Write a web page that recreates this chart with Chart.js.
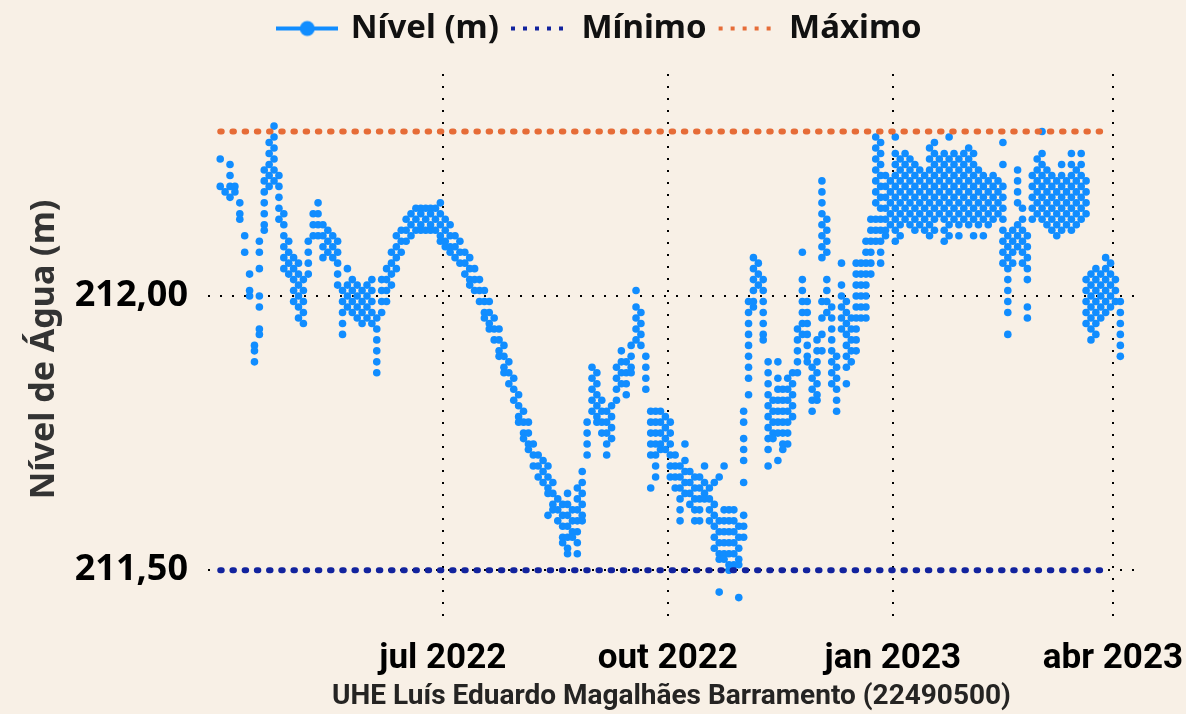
<!DOCTYPE html>
<html lang="pt-BR">
<head>
<meta charset="utf-8">
<title>Nível de Água — UHE Luís Eduardo Magalhães</title>
<script src="https://cdn.jsdelivr.net/npm/chart.js@4.4.1/dist/chart.umd.min.js"></script>
<style>
  html, body { margin: 0; padding: 0; background: #F8F0E6; }
  #quadro { width: 1186px; height: 714px; position: relative; }
</style>
</head>
<body>
<div id="quadro"><canvas id="grafico"></canvas></div>
<script>
'use strict';

/* leituras do nível, uma amostra a cada 2 dias a partir de 01/04/2022
   (cada amostra guarda os valores lidos naquela coluna do gráfico) */
const dataInicial = '2022-04-01';
const passoDias = 2;
const leituras = [
    // abr 2022
    [212.25, 212.20], [212.19], [212.24, 212.22, 212.20, 212.18], [212.20, 212.19],
    [212.17, 212.15, 212.14], [212.11, 212.08], [212.04, 212.01, 212.00], [211.91, 211.90, 211.88],
    [212.10, 212.08, 212.05, 212.00, 211.98, 211.94, 211.93],
    [212.23, 212.21, 212.19, 212.17, 212.15, 212.13, 212.12],
    [212.28, 212.26, 212.24, 212.22, 212.20],
    [212.31, 212.29, 212.27, 212.25, 212.23, 212.21],
    [212.22, 212.20, 212.18, 212.16, 212.14],
    [212.15, 212.13, 212.11, 212.09, 212.07, 212.05],
    [212.10, 212.08, 212.06, 212.04],
    // mai 2022
    [212.07, 212.05, 212.03, 212.01, 211.99], [212.06, 212.04, 212.02, 212.00, 211.98, 211.96],
    [212.03, 212.01, 211.99, 211.97, 211.95], [212.10, 212.08, 212.06, 212.04],
    [212.15, 212.13, 212.11], [212.17, 212.15, 212.13, 212.11], [212.13, 212.11, 212.09, 212.07],
    [212.12, 212.10, 212.08], [212.11, 212.09, 212.07], [212.10, 212.08, 212.06, 212.04, 212.02],
    [212.01, 211.99, 211.97, 211.95, 211.93], [212.05, 212.02, 212.00, 211.98],
    [212.03, 212.01, 211.99, 211.97], [212.02, 212.00, 211.98, 211.96], [212.01, 211.99, 211.97, 211.95],
    // jun 2022
    [212.02, 212.00, 211.98, 211.96], [212.03, 212.01, 211.99, 211.97, 211.95],
    [211.96, 211.94, 211.92, 211.90, 211.88, 211.86], [212.03, 212.01, 211.99, 211.97],
    [212.05, 212.03, 212.01, 211.99], [212.08, 212.06, 212.04, 212.02], [212.11, 212.09, 212.07, 212.05],
    [212.12, 212.10, 212.08], [212.14, 212.12, 212.10], [212.15, 212.13, 212.11], [212.16, 212.14, 212.12],
    [212.16, 212.15, 212.13, 212.12], [212.16, 212.14, 212.12], [212.16, 212.15, 212.13, 212.12],
    [212.16, 212.14, 212.12],
    // jul 2022
    [212.17, 212.15, 212.13, 212.11, 212.10], [212.14, 212.12, 212.10, 212.09], [212.13, 212.11, 212.09, 212.08],
    [212.11, 212.09, 212.07], [212.10, 212.08, 212.06], [212.08, 212.06, 212.04], [212.07, 212.05, 212.03, 212.02],
    [212.05, 212.03, 212.01], [212.03, 212.01, 211.99], [212.01, 211.99, 211.97, 211.96],
    [211.99, 211.97, 211.95, 211.94], [211.96, 211.94, 211.92], [211.94, 211.92, 211.90, 211.89],
    [211.91, 211.89, 211.87, 211.86], [211.88, 211.86, 211.84], [211.85, 211.83, 211.81],
    // ago 2022
    [211.82, 211.80, 211.78, 211.77], [211.79, 211.77, 211.75, 211.74], [211.77, 211.75, 211.73, 211.72],
    [211.73, 211.71, 211.69], [211.71, 211.69, 211.67], [211.70, 211.68, 211.66],
    [211.69, 211.67, 211.65, 211.64, 211.60], [211.66, 211.64, 211.62, 211.61], [211.63, 211.61, 211.59],
    [211.62, 211.60, 211.58, 211.56, 211.55], [211.64, 211.62, 211.60, 211.58, 211.56, 211.54, 211.53],
    [211.61, 211.59, 211.57, 211.56], [211.65, 211.63, 211.61, 211.59, 211.57, 211.55, 211.53],
    [211.68, 211.66, 211.64, 211.62, 211.60, 211.59], [211.77, 211.75, 211.73, 211.71],
    // set 2022
    [211.87, 211.85, 211.83, 211.81, 211.79], [211.86, 211.84, 211.82, 211.80, 211.78, 211.77],
    [211.81, 211.79, 211.77, 211.75], [211.79, 211.77, 211.75, 211.73, 211.71], [211.80, 211.78, 211.76, 211.74],
    [211.87, 211.85, 211.83, 211.81], [211.90, 211.88, 211.86, 211.84], [211.88, 211.86, 211.84, 211.82],
    [211.91, 211.89, 211.87, 211.86], [212.01, 211.98, 211.96, 211.94, 211.92], [211.97, 211.95, 211.93, 211.91],
    [211.89, 211.87, 211.85, 211.83], [211.79, 211.77, 211.75, 211.73, 211.71, 211.65],
    [211.79, 211.77, 211.75, 211.73, 211.71, 211.69, 211.67], [211.79, 211.77, 211.75, 211.73, 211.72],
    // out 2022
    [211.78, 211.76, 211.74, 211.72], [211.77, 211.75, 211.73, 211.71, 211.69, 211.67],
    [211.71, 211.69, 211.67, 211.65], [211.69, 211.67, 211.65, 211.63, 211.61, 211.59],
    [211.73, 211.70, 211.68, 211.66, 211.64], [211.68, 211.66, 211.64, 211.62],
    [211.67, 211.65, 211.63, 211.61, 211.59], [211.67, 211.65, 211.63, 211.61, 211.59],
    [211.69, 211.66, 211.64, 211.63], [211.65, 211.63, 211.61, 211.59],
    [211.66, 211.62, 211.60, 211.58, 211.56, 211.54], [211.67, 211.59, 211.57, 211.55, 211.53, 211.52, 211.46],
    [211.69, 211.61, 211.59, 211.57, 211.55, 211.53, 211.52], [211.61, 211.59, 211.57, 211.55, 211.53, 211.51, 211.50],
    [211.61, 211.59, 211.57, 211.55, 211.53, 211.51], [211.58, 211.56, 211.54, 211.52, 211.51, 211.45],
    // nov 2022
    [211.79, 211.77, 211.74, 211.72, 211.70, 211.66, 211.60, 211.58, 211.56],
    [211.99, 211.97, 211.95, 211.93, 211.91, 211.89, 211.87, 211.85, 211.82],
    [212.07, 212.05, 212.03, 212.01, 211.99, 211.98], [212.06, 212.04, 212.02],
    [212.03, 212.01, 211.99, 211.97, 211.95, 211.93, 211.92],
    [211.88, 211.86, 211.84, 211.82, 211.80, 211.78, 211.76, 211.74, 211.72, 211.69],
    [211.81, 211.79, 211.77, 211.75, 211.74], [211.88, 211.85, 211.83, 211.81, 211.79, 211.77, 211.75, 211.70],
    [211.83, 211.81, 211.79, 211.77, 211.75, 211.73, 211.72], [211.85, 211.83, 211.81, 211.79, 211.77, 211.75, 211.73],
    [211.86, 211.84, 211.82, 211.80, 211.78], [211.94, 211.92, 211.90, 211.88, 211.86],
    [212.08, 212.03, 212.01, 211.99, 211.97, 211.95, 211.93], [211.99, 211.97, 211.95, 211.93, 211.91, 211.89, 211.88],
    [211.87, 211.85, 211.83, 211.81, 211.79],
    // dez 2022
    [211.92, 211.90, 211.88, 211.86, 211.84, 211.82, 211.81],
    [212.21, 212.19, 212.17, 212.15, 212.13, 212.11, 212.09, 212.07, 211.99, 211.96, 211.93, 211.90],
    [212.14, 212.12, 212.10, 212.08, 212.03, 212.01, 211.99, 211.97],
    [211.98, 211.96, 211.94, 211.92, 211.90, 211.88, 211.86, 211.84],
    [211.89, 211.87, 211.85, 211.83, 211.81, 211.79], [212.06, 212.02, 212.00, 211.98, 211.96, 211.94],
    [211.99, 211.97, 211.95, 211.93, 211.91, 211.89, 211.87, 211.84], [211.96, 211.94, 211.92, 211.90, 211.88],
    [212.06, 212.04, 212.02, 212.00, 211.98, 211.96, 211.94, 211.92, 211.90],
    [212.06, 212.04, 212.02, 212.00, 211.98, 211.96],
    [212.10, 212.08, 212.06, 212.04, 212.02, 212.00, 211.98, 211.96],
    [212.14, 212.12, 212.10, 212.08, 212.06, 212.04],
    [212.29, 212.27, 212.25, 212.23, 212.21, 212.19, 212.17, 212.14, 212.12, 212.10],
    [212.28, 212.26, 212.24, 212.22, 212.20, 212.18, 212.16, 212.14, 212.12, 212.10, 212.08, 212.06],
    [212.22, 212.20, 212.18, 212.16, 212.14, 212.12, 212.11], [212.21, 212.19, 212.17, 212.15, 212.13],
    // jan 2023
    [212.29, 212.26, 212.24, 212.22, 212.20, 212.18, 212.16, 212.14, 212.12, 212.10],
    [212.25, 212.23, 212.21, 212.19, 212.17, 212.15, 212.13, 212.11],
    [212.26, 212.24, 212.22, 212.20, 212.18, 212.16, 212.14],
    [212.25, 212.23, 212.21, 212.19, 212.17, 212.15, 212.13],
    [212.24, 212.22, 212.20, 212.18, 212.16, 212.14, 212.12],
    [212.23, 212.21, 212.19, 212.17, 212.15, 212.13],
    [212.22, 212.20, 212.18, 212.16, 212.14, 212.12],
    [212.27, 212.25, 212.23, 212.21, 212.19, 212.17, 212.15, 212.13, 212.11],
    [212.28, 212.26, 212.24, 212.22, 212.20, 212.18, 212.16, 212.14, 212.12],
    [212.25, 212.23, 212.21, 212.19, 212.17, 212.15],
    [212.26, 212.24, 212.22, 212.20, 212.18, 212.16, 212.14, 212.12, 212.10],
    [212.29, 212.25, 212.23, 212.21, 212.19, 212.17, 212.15, 212.13, 212.11],
    [212.26, 212.24, 212.22, 212.20, 212.18, 212.16, 212.14],
    [212.25, 212.23, 212.21, 212.19, 212.17, 212.15, 212.13, 212.11],
    [212.26, 212.24, 212.22, 212.20, 212.18, 212.16, 212.14],
    // fev 2023
    [212.27, 212.25, 212.23, 212.21, 212.19, 212.17, 212.15, 212.13],
    [212.26, 212.24, 212.22, 212.20, 212.18, 212.16, 212.14, 212.11],
    [212.23, 212.21, 212.19, 212.17, 212.15, 212.13],
    [212.22, 212.20, 212.18, 212.16, 212.14, 212.11],
    [212.21, 212.19, 212.17, 212.15, 212.13],
    [212.22, 212.20, 212.18, 212.16, 212.14],
    [212.21, 212.19, 212.17, 212.15],
    [212.28, 212.24, 212.20, 212.18, 212.16, 212.14, 212.12, 212.10, 212.08, 212.06],
    [212.11, 212.09, 212.07, 212.05, 212.03, 212.01, 211.99, 211.97, 211.93],
    [212.12, 212.10, 212.08, 212.06],
    [212.23, 212.21, 212.19, 212.17, 212.13, 212.11, 212.09],
    [212.16, 212.14, 212.12, 212.10, 212.08, 212.06],
    [212.11, 212.09, 212.07, 212.05, 212.03, 211.98, 211.96],
    [212.22, 212.20, 212.18, 212.16, 212.14],
    // mar 2023
    [212.25, 212.23, 212.21, 212.19, 212.17, 212.15],
    [212.30, 212.26, 212.24, 212.22, 212.20, 212.18, 212.16, 212.14],
    [212.23, 212.21, 212.19, 212.17, 212.15, 212.13],
    [212.22, 212.20, 212.18, 212.16, 212.14, 212.12],
    [212.21, 212.19, 212.17, 212.15, 212.13, 212.11],
    [212.24, 212.22, 212.20, 212.18, 212.16, 212.14, 212.12],
    [212.21, 212.19, 212.17, 212.15, 212.13],
    [212.26, 212.24, 212.22, 212.20, 212.18, 212.16, 212.14, 212.12],
    [212.23, 212.21, 212.19, 212.17, 212.15, 212.13],
    [212.26, 212.24, 212.22, 212.20, 212.18, 212.16, 212.14],
    [212.21, 212.19, 212.17, 212.15, 212.03, 212.01, 211.99, 211.97, 211.95],
    [212.04, 212.02, 212.00, 211.98, 211.96, 211.94, 211.92],
    [212.05, 212.03, 212.01, 211.99, 211.97, 211.95, 211.93],
    [212.04, 212.02, 212.00, 211.98, 211.96],
    [212.07, 212.05, 212.03, 212.01, 211.99, 211.97],
    // abr 2023
    [212.06, 212.04, 212.02, 212.00, 211.98],
    [212.03, 212.01, 211.99],
    [211.99, 211.97, 211.95, 211.93, 211.91, 211.89],
];

// cotas de referência
const nivelMinimo = 211.50;
const nivelMaximo = 212.30;
const periodoReferencia = ['2022-04-01', '2023-03-31'];

// eixos
const datasRotulos = ['2022-07-01', '2022-10-01', '2023-01-01', '2023-04-01'];
const rotulosX = ['jul 2022', 'out 2022', 'jan 2023', 'abr 2023'];
const ticksY = [211.50, 212.00];
const limitesX = ['2022-03-27', '2023-04-10'];
const limitesY = [211.40, 212.405];
const tituloX = 'UHE Luís Eduardo Magalhães Barramento (22490500)';
const tituloY = 'Nível de Água (m)';

const AZUL = '#118DFF';
const AZUL_ESCURO = '#12239E';
const LARANJA = '#E66C37';
const FUNDO = '#F8F0E6';

function dia(s) {
    return (Date.parse(s) - Date.parse(dataInicial)) / 864e5;
}

/* marcas da legenda desenhadas num canvas pequeno */
function marcaNivel() {
    const c = document.createElement('canvas');
    c.width = 62; c.height = 20;
    const g = c.getContext('2d');
    g.strokeStyle = AZUL; g.lineWidth = 4;
    g.beginPath(); g.moveTo(0, 10); g.lineTo(62, 10); g.stroke();
    g.fillStyle = AZUL;
    g.beginPath(); g.arc(31, 10, 7.5, 0, Math.PI * 2); g.fill();
    return c;
}

function marcaPontilhada(cor) {
    const c = document.createElement('canvas');
    c.width = 62; c.height = 20;
    const g = c.getContext('2d');
    g.fillStyle = cor;
    for (let k = 0; k < 5; k++) g.fillRect(4 + k * 12, 8, 4, 4);
    return c;
}

const pontos = [];
leituras.forEach((valores, i) => valores.forEach(v => pontos.push({ x: i * passoDias, y: v })));

const linhaRef = v => periodoReferencia.map(d => ({ x: dia(d), y: v }));
const marcas = [marcaNivel(), marcaPontilhada(AZUL_ESCURO), marcaPontilhada(LARANJA)];

const grade = { color: '#000', lineWidth: 2, drawTicks: false };
const bordaPontilhada = { display: false, dash: [2, 10] };

const fundo = {
    id: 'fundo',
    beforeDraw(chart) {
        const { ctx, width, height } = chart;
        ctx.save();
        ctx.fillStyle = FUNDO;
        ctx.fillRect(0, 0, width, height);
        ctx.restore();
    },
};

new Chart(document.getElementById('grafico'), {
    type: 'scatter',
    data: {
        datasets: [
            {
                label: 'Nível (m)',
                data: pontos,
                showLine: false,
                pointRadius: 3.8,
                pointBorderWidth: 0,
                pointBackgroundColor: AZUL,
                order: 2,
            },
            {
                label: 'Mínimo',
                data: linhaRef(nivelMinimo),
                showLine: true,
                borderColor: AZUL_ESCURO,
                borderWidth: 6,
                borderDash: [1.5, 10.7],
                borderCapStyle: 'round',
                pointRadius: 0,
                order: 1,
            },
            {
                label: 'Máximo',
                data: linhaRef(nivelMaximo),
                showLine: true,
                borderColor: LARANJA,
                borderWidth: 6,
                borderDash: [1.5, 10.7],
                borderCapStyle: 'round',
                pointRadius: 0,
                order: 1,
            },
        ],
    },
    options: {
        responsive: true,
        maintainAspectRatio: false,
        animation: false,
        events: [],
        layout: { padding: { left: 16, right: 0, top: 0, bottom: 0 } },
        plugins: {
            tooltip: { enabled: false },
            subtitle: { display: true, text: '', weight: 500, padding: 0, font: { size: 19, lineHeight: 1 } },
            legend: {
                position: 'top',
                labels: {
                    usePointStyle: true,
                    pointStyleWidth: 54,
                    padding: 12,
                    color: '#111',
                    font: { family: "'Noto Sans', sans-serif", weight: 'bold', size: 33 },
                    generateLabels: chart => chart.data.datasets.map((ds, i) => ({
                        text: ds.label,
                        pointStyle: marcas[i],
                        datasetIndex: i,
                        hidden: false,
                        fontColor: '#111',
                        lineWidth: 0,
                        strokeStyle: 'transparent',
                        fillStyle: 'transparent',
                    })),
                },
            },
        },
        scales: {
            x: {
                type: 'linear',
                min: dia(limitesX[0]),
                max: dia(limitesX[1]),
                afterBuildTicks: s => { s.ticks = datasRotulos.map(d => ({ value: dia(d) })); },
                afterFit: s => { s.height = 89; s.paddingRight = 51; },
                ticks: {
                    callback: (v, i) => rotulosX[i],
                    autoSkip: false,
                    maxRotation: 0,
                    padding: 13,
                    color: '#000',
                    font: { family: 'Roboto, sans-serif', weight: 'bold', size: 35 },
                },
                grid: grade,
                border: bordaPontilhada,
                title: {
                    display: true,
                    text: tituloX,
                    color: '#252423',
                    padding: { top: 0, bottom: 3 },
                    font: { family: 'Roboto, sans-serif', weight: 'bold', size: 28, lineHeight: 1 },
                },
            },
            y: {
                min: limitesY[0],
                max: limitesY[1],
                afterBuildTicks: s => { s.ticks = ticksY.map(v => ({ value: v })); },
                afterFit: s => { s.width = 192; },
                ticks: {
                    callback: v => v.toFixed(2).replace('.', ','),
                    padding: 20,
                    color: '#000',
                    font: { family: "'Noto Sans', sans-serif", weight: 'bold', size: 36 },
                },
                grid: grade,
                border: bordaPontilhada,
                title: {
                    display: true,
                    text: tituloY,
                    color: '#333',
                    padding: { top: 8, bottom: 0 },
                    font: { family: "'Noto Sans', sans-serif", weight: 'bold', size: 34 },
                },
            },
        },
    },
    plugins: [fundo],
});
</script>
</body>
</html>
